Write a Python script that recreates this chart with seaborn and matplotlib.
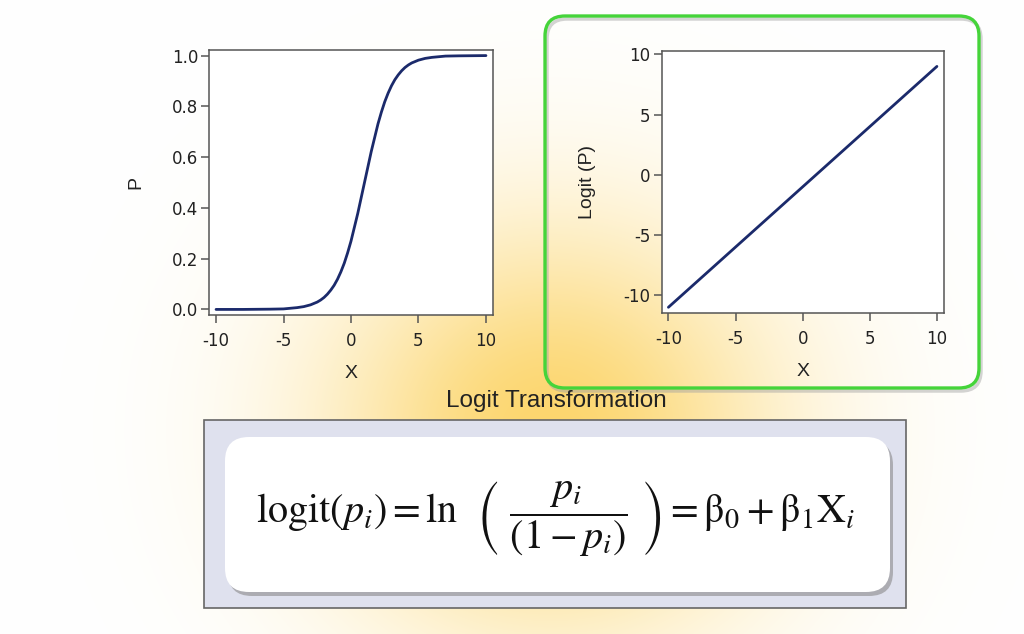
import numpy as np
import pandas as pd
import seaborn as sns
import matplotlib.pyplot as plt
from matplotlib.patches import FancyBboxPatch, Rectangle

# values
x_p = [-10, -8, -6, -5, -4, -3.5, -3, -2.5, -2.25, -2, -1.75, -1.5, -1.25, -1, -0.75,
       -0.5, -0.25, 0, 0.5, 1, 1.5, 2, 2.25, 2.5, 2.75, 3, 3.25, 3.5, 3.75, 4,
       4.25, 4.5, 5, 5.5, 6, 7, 8, 10]
p_vals = [0.000, 0.000, 0.001, 0.002, 0.007, 0.011, 0.018, 0.029, 0.037, 0.047,
          0.060, 0.076, 0.095, 0.119, 0.148, 0.182, 0.223, 0.269, 0.378, 0.500,
          0.622, 0.731, 0.777, 0.818, 0.852, 0.881, 0.905, 0.924, 0.940, 0.953,
          0.963, 0.971, 0.982, 0.989, 0.993, 0.998, 0.999, 1.000]
x_logit = [-10, -5, 0, 5, 10]
logit_vals = [-11, -6, -1, 4, 9]
x_ticks = [-10, -5, 0, 5, 10]
p_ticks = [0.0, 0.2, 0.4, 0.6, 0.8, 1.0]
logit_ticks = [-10, -5, 0, 5, 10]

left = pd.DataFrame({'X': x_p, 'P': p_vals})
right = pd.DataFrame({'X': x_logit, 'Logit (P)': logit_vals})

sns.set_style('ticks')
plt.rcParams['font.family'] = ['Liberation Sans', 'DejaVu Sans']
plt.rcParams['mathtext.fontset'] = 'stix'
plt.rcParams['axes.unicode_minus'] = False

W, H = 1024, 634
fig = plt.figure(figsize=(W / 100, H / 100), dpi=100)

# background (slide) in pixel coords
bg = fig.add_axes([0, 0, 1, 1])
bg.set_xlim(0, W)
bg.set_ylim(H, 0)
bg.axis('off')
yy, xx = np.mgrid[0:H, 0:W]
r2 = ((xx - 550) / 370.0) ** 2 + ((yy - 430) / 340.0) ** 2
glow = np.exp(-2.8 * r2)
warm = np.array([252, 214, 110]) / 255
img = (1 - glow[..., None]) + warm[None, None, :] * glow[..., None]
bg.imshow(np.clip(img, 0, 1), extent=[0, W, H, 0], aspect='auto', zorder=0)

# green highlight box
bg.add_patch(FancyBboxPatch((547, 19), 434, 372, boxstyle='round,pad=0,rounding_size=20',
                            fc='none', ec='#a0a0a0', lw=2.5, alpha=0.45, zorder=1))
bg.add_patch(FancyBboxPatch((545, 16), 434, 372, boxstyle='round,pad=0,rounding_size=20',
                            fc='none', ec='#45d43a', lw=2.4, zorder=2))

# formula box
bg.add_patch(Rectangle((204, 420), 702, 188, fc='#dfe1ee', ec='#666666', lw=1.2, zorder=1))
bg.add_patch(FancyBboxPatch((228, 441), 665, 155, boxstyle='round,pad=0,rounding_size=24',
                            fc='#8a8a8a', ec='none', alpha=0.6, zorder=2))
bg.add_patch(FancyBboxPatch((225, 437), 665, 155, boxstyle='round,pad=0,rounding_size=24',
                            fc='white', ec='none', zorder=3))
formula = (r'$\mathrm{logit}(p_i) = \mathrm{ln}\ \ \left(\ \dfrac{p_i}{(1-p_i)}\ \right)'
           r' = \mathrm{\beta}_0 + \mathrm{\beta}_1\mathrm{X}_i$')
bg.text(556, 518, formula, ha='center', va='center', fontsize=29, color='#111111', zorder=4)
bg.text(556, 401, 'Logit Transformation', ha='center', va='center', fontsize=17.5,
        color='#222222', zorder=4)

line_color = '#1b2a6b'
spine_color = '#555555'

ax1 = fig.add_axes([209.3 / W, 1 - 315 / H, 283.4 / W, 265 / H])
sns.lineplot(data=left, x='X', y='P', ax=ax1, color=line_color, lw=2)
ax1.set_xlim(-10.5, 10.5)
ax1.set_ylim(-0.022, 1.022)
ax1.set_xticks(x_ticks)
ax1.set_yticks(p_ticks)
ax1.set_yticklabels([f'{v:.1f}' for v in p_ticks])

ax2 = fig.add_axes([661.7 / W, 1 - 313.3 / H, 282.6 / W, 262.3 / H])
sns.lineplot(data=right, x='X', y='Logit (P)', ax=ax2, color=line_color, lw=2)
ax2.set_xlim(-10.5, 10.55)
ax2.set_ylim(-11.5, 10.28)
ax2.set_xticks(x_ticks)
ax2.set_yticks(logit_ticks)

for ax in (ax1, ax2):
    ax.set_facecolor('white')
    for s in ax.spines.values():
        s.set_visible(True)
        s.set_color(spine_color)
        s.set_linewidth(1.1)
    ax.tick_params(axis='both', length=6, width=1.1, color=spine_color,
                   labelsize=12, labelcolor='#222222')
    ax.tick_params(axis='x', pad=6)
    ax.tick_params(axis='y', pad=2)
    for lab in ax.get_xticklabels() + ax.get_yticklabels():
        lab.set_family(['DejaVu Sans'])
    ax.set_xlabel('X', fontsize=14, labelpad=11, color='#222222')
    ax.set_ylabel(ax.get_ylabel(), fontsize=14, labelpad=20, color='#222222')

fig.savefig('out.png', dpi=100)
